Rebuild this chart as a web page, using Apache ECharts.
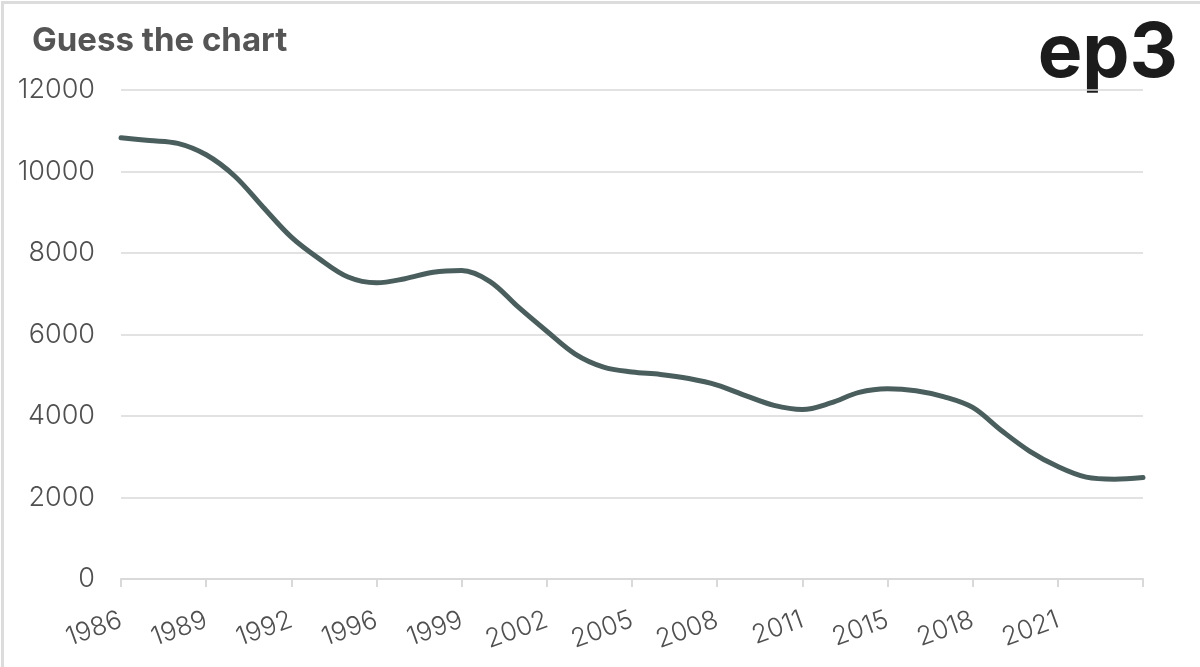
<!DOCTYPE html>
<html>
<head>
<meta charset="utf-8">
<script src="https://cdn.jsdelivr.net/npm/echarts@6/dist/echarts.min.js"></script>
<style>
html,body{margin:0;padding:0;background:#fff;}
#chart{width:1200px;height:667px;}
</style>
</head>
<body>
<div id="chart"></div>
<script>
// Categories (irregular years; labels shown every third point)
const categories = ['1986','1987','1988','1989','1990','1991','1992','1993','1994',
  '1996','1997','1998','1999','2000','2001','2002','2003','2004','2005','2006','2007',
  '2008','2009','2010','2011','2013','2014','2015','2016','2017','2018','2019','2020',
  '2021','2022','2023','2024'];
const tickLabels = ['1986','1989','1992','1996','1999','2002','2005','2008','2011','2015','2018','2021'];
const values = [10830, 10760, 10690, 10410, 9890, 9130, 8390, 7850, 7410, 7270, 7370, 7530,
  7570, 7300, 6670, 6080, 5520, 5200, 5080, 5020, 4920, 4760, 4500, 4260, 4160, 4320,
  4580, 4670, 4620, 4470, 4210, 3650, 3140, 2760, 2500, 2450, 2490];
const yTicks = [0, 2000, 4000, 6000, 8000, 10000, 12000];

const chart = echarts.init(document.getElementById('chart'), null, {renderer: 'canvas'});
const FONT = 'Inter, "Noto Sans", sans-serif';
chart.setOption({
  animation: false,
  backgroundColor: '#ffffff',
  title: {
    text: 'Guess the chart',
    left: 27, top: 20,
    textStyle: {fontFamily: FONT, fontWeight: 'bold', fontSize: 33, color: '#555555'}
  },
  graphic: [
    {type: 'rect', left: 0, top: 0, z: -1, silent: true,
     shape: {x: 0, y: 0, width: 1199, height: 666},
     style: {fill: 'none', stroke: '#dcdcdc', lineWidth: 3}},
    {type: 'text', right: 22, top: 17,
     style: {text: 'ep3', font: 'bold 75px ' + FONT, fill: '#1c1c1c'}}
  ],
  grid: {left: 121, right: 57, top: 90, bottom: 88, containLabel: false},
  xAxis: {
    type: 'category',
    data: categories,
    boundaryGap: false,
    axisLine: {show: true, lineStyle: {color: '#d9d9d9', width: 2}},
    axisTick: {show: true, interval: 2, length: 8, lineStyle: {color: '#d9d9d9', width: 2}},
    axisLabel: {
      interval: 2, rotate: 20, margin: 40,
      fontFamily: FONT, fontWeight: 300, fontSize: 26, color: '#505050',
      formatter: function (v) { return tickLabels.indexOf(v) >= 0 ? v : ''; }
    },
    splitLine: {show: false}
  },
  yAxis: {
    type: 'value',
    min: yTicks[0], max: yTicks[yTicks.length - 1], interval: 2000,
    axisLine: {show: false},
    axisTick: {show: false},
    axisLabel: {margin: 26, fontFamily: FONT, fontWeight: 300, fontSize: 27, color: '#505050',
      formatter: function (v) { return String(v); }},
    splitLine: {show: true, lineStyle: {color: '#d9d9d9', width: 1.5}}
  },
  series: [{
    type: 'line',
    data: values,
    smooth: 0.35,
    symbol: 'none',
    lineStyle: {color: '#4a5e5e', width: 5, cap: 'round'}
  }]
});
</script>
</body>
</html>
